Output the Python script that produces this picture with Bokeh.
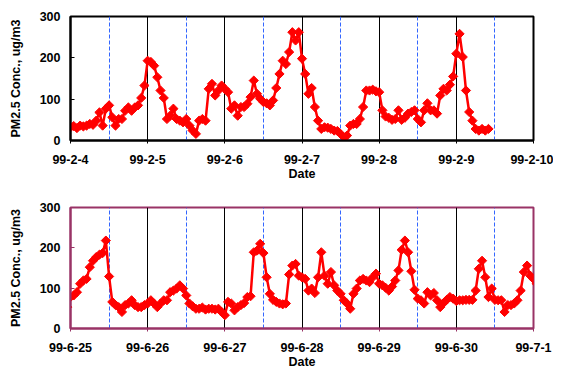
import numpy as np
from bokeh.plotting import figure
from bokeh.layouts import column
from bokeh.models import FixedTicker, Grid, Range1d
from bokeh.embed import file_html
from bokeh.resources import INLINE

# ---------------- data ----------------
feb_labels = ["99-2-4", "99-2-5", "99-2-6", "99-2-7", "99-2-8", "99-2-9", "99-2-10"]
feb_first_hour = 0
feb_pm25 = [
    # 99-2-4
    32, 35, 30, 36, 34, 36, 40, 38, 48, 68, 36, 77, 85, 56, 36, 52, 52, 72, 80, 72, 80, 85, 103, 133,
    # 99-2-5
    193, 190, 181, 153, 121, 103, 52, 60, 77, 52, 48, 44, 52, 36, 24, 16, 48, 52, 48, 125, 137, 109, 121, 133,
    # 99-2-6
    125, 117, 77, 85, 60, 81, 81, 89, 105, 145, 113, 101, 93, 90, 85, 97, 127, 161, 193, 185, 214, 262, 242, 262,
    # 99-2-7
    198, 161, 113, 127, 81, 48, 28, 32, 31, 28, 24, 23, 16, 8, 12, 36, 40, 40, 52, 81, 121, 121, 123, 119,
    # 99-2-8
    117, 73, 58, 55, 50, 52, 73, 50, 55, 65, 69, 73, 52, 44, 73, 90, 73, 73, 65, 109, 125, 121, 135, 155,
    # 99-2-9
    210, 258, 202, 121, 69, 48, 28, 24, 28, 24, 28,
]

jun_labels = ["99-6-25", "99-6-26", "99-6-27", "99-6-28", "99-6-29", "99-6-30", "99-7-1"]
jun_first_hour = -1
jun_pm25 = [
    53,
    # 99-6-25
    78, 82, 90, 111, 119, 123, 152, 168, 177, 183, 187, 218, 129, 66, 58, 53, 41, 58, 62, 70, 58, 53, 53, 58,
    # 99-6-26
    62, 70, 62, 53, 62, 70, 70, 90, 94, 99, 107, 99, 82, 62, 55, 49, 49, 52, 47, 49, 49, 47, 49, 41,
    # 99-6-27
    33, 66, 62, 45, 53, 58, 63, 78, 80, 189, 193, 210, 187, 127, 86, 71, 66, 62, 60, 62, 134, 156, 160, 131,
    # 99-6-28
    127, 123, 94, 99, 88, 127, 189, 131, 111, 140, 107, 94, 86, 70, 62, 49, 86, 99, 119, 123, 119, 115, 127, 136,
    # 99-6-29
    111, 107, 101, 94, 104, 119, 144, 195, 218, 189, 142, 96, 74, 70, 62, 90, 82, 88, 70, 53, 63, 71, 78, 74,
    # 99-6-30
    68, 70, 70, 71, 71, 71, 94, 148, 168, 127, 78, 99, 71, 70, 70, 41, 58, 58, 62, 70, 94, 140, 156, 131,
    # 99-7-1
    123, 111,
]

y_ticks = [0, 100, 200, 300]
y_label = "PM2.5 Conc., ug/m3"
x_label = "Date"

FONT = "Liberation Sans"
FS = "12.5px"


def make_chart(labels, first_hour, values, frame_color, min_top, min_bottom, height):
    ndays = len(labels) - 1
    days = list(range(ndays + 1))
    x = [(first_hour + i) / 24.0 for i in range(len(values))]
    p = figure(width=553, height=height, output_backend="svg", toolbar_location=None,
               x_range=Range1d(0, ndays), y_range=Range1d(0, 300),
               min_border_left=70, min_border_right=20,
               min_border_top=min_top, min_border_bottom=min_bottom)
    p.xgrid.visible = False
    p.ygrid.visible = False
    p.background_fill_color = "white"
    p.border_fill_color = "white"
    p.outline_line_color = frame_color
    p.outline_line_width = 2
    p.outline_line_alpha = 1

    p.add_layout(Grid(dimension=0, ticker=FixedTicker(ticks=days[1:-1]),
                      grid_line_color="black", grid_line_width=1))
    p.add_layout(Grid(dimension=0, ticker=FixedTicker(ticks=[d + 0.5 for d in days[:-1]]),
                      grid_line_color="#3366FF", grid_line_width=1, grid_line_dash="4 2"))

    p.line(x, values, line_color="#FF0000", line_width=2.5)
    p.scatter(x, values, marker="square", angle=np.pi / 4, size=6.5,
              fill_color="#FF0000", line_color="#FF0000")

    xa = p.xaxis[0]
    xa.ticker = FixedTicker(ticks=days)
    xa.major_label_overrides = {d: labels[d] for d in days}
    xa.minor_tick_line_color = None
    xa.major_tick_out = 3
    xa.major_tick_in = 0
    xa.major_label_standoff = 11
    xa.axis_line_color = frame_color
    xa.axis_line_width = 2
    xa.major_tick_line_color = frame_color
    xa.axis_label = x_label
    xa.axis_label_standoff = 0

    ya = p.yaxis[0]
    ya.ticker = FixedTicker(ticks=y_ticks)
    ya.minor_tick_line_color = None
    ya.major_tick_in = 4
    ya.major_tick_out = 0
    ya.major_label_standoff = 10
    ya.axis_line_color = frame_color
    ya.axis_line_width = 2
    ya.major_tick_line_color = frame_color
    ya.axis_label = y_label
    ya.axis_label_standoff = 14

    for ax in (xa, ya):
        ax.major_label_text_font = FONT
        ax.major_label_text_font_size = FS
        ax.major_label_text_font_style = "bold"
        ax.major_label_text_color = "black"
        ax.axis_label_text_font = FONT
        ax.axis_label_text_font_size = FS
        ax.axis_label_text_font_style = "bold"
        ax.axis_label_text_color = "black"
    return p


p1 = make_chart(feb_labels, feb_first_hour, feb_pm25, "black", 16, 52, 192)
p2 = make_chart(jun_labels, jun_first_hour, jun_pm25, "#993366", 15, 48, 184)

p = column(p1, p2, spacing=0)
open("out.html", "w").write(file_html(p, INLINE))
